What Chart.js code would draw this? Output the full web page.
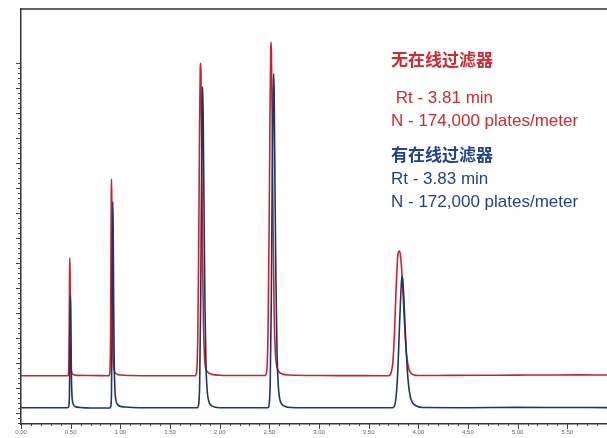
<!DOCTYPE html>
<html>
<head>
<meta charset="utf-8">
<script src="https://cdn.jsdelivr.net/npm/chart.js@4.4.1/dist/chart.umd.min.js"></script>
<style>
  html, body { margin: 0; padding: 0; background: #fff; overflow: hidden; }
  #wrap { position: relative; width: 607px; height: 438px; }
</style>
</head>
<body>
<div id="wrap"><canvas id="myChart"></canvas></div>
<script>
// retention time (min) and detector signal
const redTime = [0, 0.2, 0.473, 0.481, 0.486, 0.489, 0.491, 0.494, 0.497, 0.501, 0.508, 0.52, 0.56, 0.7,
  0.888, 0.896, 0.902, 0.906, 0.909, 0.911, 0.914, 0.918, 0.923, 0.93, 0.94, 0.955, 1.0, 1.1, 1.4,
  1.755, 1.768, 1.78, 1.789, 1.798, 1.805, 1.808, 1.812, 1.818, 1.827, 1.837, 1.847, 1.86, 1.88, 1.92, 2.0, 2.2,
  2.46, 2.474, 2.487, 2.498, 2.507, 2.514, 2.517, 2.521, 2.528, 2.538, 2.549, 2.56, 2.575, 2.595, 2.63, 2.7, 3.0, 3.3,
  3.7, 3.725, 3.745, 3.76, 3.775, 3.79, 3.8, 3.81, 3.82, 3.835, 3.85, 3.865, 3.88, 3.9, 3.925, 3.96, 4.0,
  4.3, 4.6, 5.0, 5.3, 5.6, 5.9];
const redSignal = [37.3, 37.3, 37.3, 45, 90, 140, 155, 140, 90, 52, 42, 38.8, 37.6, 37.5,
  37.3, 43, 80, 160, 220, 234, 215, 150, 82, 50, 42, 39.5, 38, 37.5, 37.3,
  37.3, 41, 75, 160, 290, 345, 349.7, 340, 280, 165, 90, 57, 45, 41, 38.8, 37.8, 37.5,
  37.5, 42, 80, 180, 300, 360, 370.7, 362, 300, 185, 100, 62, 47, 41.5, 39, 38, 37.5, 37.4,
  37.3, 40, 52, 80, 120, 152, 161, 162, 158, 140, 112, 82, 60, 46, 40, 38, 37.5,
  37.6, 37.7, 37.9, 38, 38.1, 38];

const blueTime = [0, 0.2, 0.47, 0.481, 0.488, 0.492, 0.495, 0.498, 0.501, 0.504, 0.508, 0.513, 0.52, 0.53, 0.545, 0.6, 0.7,
  0.893, 0.904, 0.911, 0.916, 0.92, 0.924, 0.928, 0.933, 0.938, 0.945, 0.955, 0.97, 0.99, 1.05, 1.2, 1.5,
  1.775, 1.787, 1.799, 1.81, 1.818, 1.825, 1.829, 1.834, 1.842, 1.852, 1.862, 1.875, 1.89, 1.91, 1.95, 2.0, 2.2,
  2.485, 2.497, 2.509, 2.52, 2.53, 2.539, 2.544, 2.549, 2.557, 2.567, 2.578, 2.59, 2.605, 2.625, 2.66, 2.72, 3.0, 3.4,
  3.74, 3.76, 3.78, 3.795, 3.81, 3.822, 3.832, 3.838, 3.845, 3.857, 3.87, 3.885, 3.9, 3.92, 3.945, 3.98, 4.05,
  4.5, 5.0, 5.5, 5.9];
const blueSignal = [5.3, 5.3, 5.3, 6.5, 20, 60, 100, 118, 105, 70, 35, 18, 11, 8, 6.5, 5.5, 5,
  5, 6.5, 20, 80, 170, 211.3, 185, 110, 55, 25, 13, 9, 7, 6, 5.3, 5.2,
  5.3, 7.5, 30, 120, 240, 310, 326.3, 300, 210, 110, 50, 22, 12, 8, 6, 5.3, 5.2,
  5.3, 7.5, 30, 110, 240, 320, 339.3, 320, 230, 130, 60, 28, 14, 9, 6.5, 5.5, 5.2, 5.2,
  5.3, 7, 20, 45, 85, 115, 133, 137, 132, 110, 80, 50, 30, 16, 10, 7, 5.5,
  5.3, 5.6, 5.5, 5.4];

const xTickStep = 0.5;
const yTickStep = 25;
const yTickTop = 350;

const legendLines = [
  { text: '无在线过滤器', color: '#d7262e', cjk: true, y: 66 },
  { text: ' Rt - 3.81 min', color: '#d7262e', y: 103 },
  { text: 'N - 174,000 plates/meter', color: '#d7262e', y: 126 },
  { text: '有在线过滤器', color: '#24418f', cjk: true, y: 161 },
  { text: 'Rt - 3.83 min', color: '#24418f', y: 184 },
  { text: 'N - 172,000 plates/meter', color: '#24418f', y: 207 }
];

const toPoints = (xs, ys) => xs.map((x, i) => ({ x: x, y: ys[i] }));

const frame = {
  id: 'frame',
  afterDraw(chart) {
    const c = chart.ctx;
    const a = chart.chartArea;
    const xs = chart.scales.x;
    const ys = chart.scales.y;
    c.save();
    c.strokeStyle = '#333';
    c.lineWidth = 1.5;
    c.beginPath();
    c.moveTo(a.left, a.top);
    c.lineTo(a.right + 2, a.top);
    c.stroke();

    c.lineWidth = 1;
    c.strokeStyle = '#444';
    // y ticks, minor every 5
    for (let v = -10; v <= yTickTop; v += 5) {
      const py = Math.round(ys.getPixelForValue(v)) + 0.5;
      const len = v % yTickStep === 0 ? 5 : 3;
      c.beginPath();
      c.moveTo(a.left - len, py);
      c.lineTo(a.left, py);
      c.stroke();
    }
    // x ticks, minor every 0.1
    for (let k = 0; k <= 59; k++) {
      const v = k / 10;
      const px = Math.round(xs.getPixelForValue(v)) + 0.5;
      const len = k % 5 === 0 ? 5 : 2;
      c.beginPath();
      c.moveTo(px, a.bottom);
      c.lineTo(px, a.bottom + len);
      c.stroke();
    }

    c.textBaseline = 'alphabetic';
    c.textAlign = 'left';
    legendLines.forEach(l => {
      c.fillStyle = l.color;
      c.font = l.cjk ? 'bold 17px "Noto Sans CJK SC"' : '17px "Liberation Sans", Arial, sans-serif';
      c.fillText(l.text, 391, l.y);
    });
    c.restore();
  }
};

const ctx = document.getElementById('myChart').getContext('2d');
const myChart = new Chart(ctx, {
  type: 'line',
  data: {
    datasets: [
      {
        label: '有在线过滤器',
        data: toPoints(blueTime, blueSignal),
        borderColor: '#1b3767',
        borderWidth: 1.6,
        pointRadius: 0,
        cubicInterpolationMode: 'monotone'
      },
      {
        label: '无在线过滤器',
        data: toPoints(redTime, redSignal),
        borderColor: '#d0202c',
        borderWidth: 1.6,
        pointRadius: 0,
        cubicInterpolationMode: 'monotone'
      }
    ]
  },
  options: {
    responsive: true,
    maintainAspectRatio: false,
    animation: false,
    layout: { padding: { top: 9, right: 0, left: 0, bottom: 0 } },
    scales: {
      x: {
        type: 'linear',
        min: 0,
        max: 5.9,
        grid: { display: false, drawTicks: false },
        border: { display: true, color: '#333', width: 1.5 },
        ticks: {
          stepSize: xTickStep,
          includeBounds: false,
          maxRotation: 0,
          autoSkip: false,
          padding: 5,
          color: '#666',
          font: { size: 6, family: "'Liberation Sans', Arial, sans-serif" },
          callback: v => v.toFixed(2)
        },
        afterFit: s => { s.height = 14; }
      },
      y: {
        min: -11,
        max: 404,
        grid: { display: false, drawTicks: false },
        border: { display: true, color: '#333', width: 1.5 },
        ticks: { display: false },
        afterFit: s => { s.width = 21; }
      }
    },
    plugins: {
      legend: { display: false },
      tooltip: { enabled: false }
    }
  },
  plugins: [frame]
});
</script>
</body>
</html>
